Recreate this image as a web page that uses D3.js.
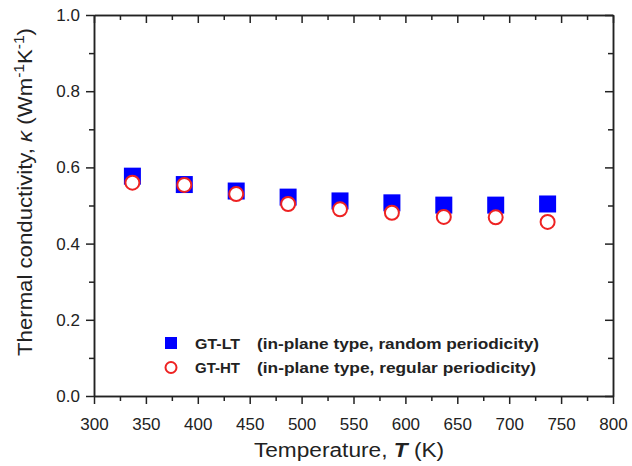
<!DOCTYPE html>
<html>
<head>
<meta charset="utf-8">
<script src="https://cdn.jsdelivr.net/npm/d3@7"></script>
<style>
  body { margin: 0; background: #fff; overflow: hidden; }
  svg { display: block; }
  svg text { font-family: Arial, "Liberation Sans", sans-serif; fill: #222; }
</style>
</head>
<body>
<div id="graph"></div>
<script>
// temperatures (K)
const temps = [337, 387, 437, 487, 537, 587, 637, 687, 737];
// GT-LT (in-plane type, random periodicity)
const ltValues = [0.577, 0.555, 0.538, 0.522, 0.512, 0.507, 0.501, 0.501, 0.504];
// GT-HT (in-plane type, regular periodicity)
const htValues = [0.560, 0.554, 0.530, 0.504, 0.490, 0.481, 0.470, 0.469, 0.457];

const xMajor = d3.range(300, 801, 50);
const xMinor = d3.range(325, 800, 50);
const yMajor = [0, 0.2, 0.4, 0.6, 0.8, 1.0];
const yMinor = [0.1, 0.3, 0.5, 0.7, 0.9];

const legendItems = [
    {name: "GT-LT", desc: "(in-plane type, random periodicity)", shape: "square"},
    {name: "GT-HT", desc: "(in-plane type, regular periodicity)", shape: "circle"}
];

const width = 632;
const height = 466;
const margin = {top: 15, right: 19, bottom: 70, left: 94};
const innerWidth = width - margin.left - margin.right;
const innerHeight = height - margin.top - margin.bottom;

const blue = "#0000ff";
const red = "#ee2222";

const svg = d3.select("#graph")
    .append("svg")
    .attr("width", width)
    .attr("height", height);

const graph = svg.append("g")
    .attr("transform", `translate(${margin.left}, ${margin.top})`);

const xScale = d3.scaleLinear().domain([300, 800]).range([0, innerWidth]);
const yScale = d3.scaleLinear().domain([0, 1]).range([innerHeight, 0]);

const styleAxis = g => {
    g.selectAll("path").attr("stroke", "#222").attr("stroke-width", 1.5);
    g.selectAll("line").attr("stroke", "#222").attr("stroke-width", 1.5);
    g.selectAll("text").attr("font-size", 17).attr("font-family", "Arial, 'Liberation Sans', sans-serif").attr("fill", "#222");
};
const noText = g => g.selectAll("text").remove();

// bottom
graph.append("g")
    .attr("transform", `translate(0, ${innerHeight})`)
    .call(d3.axisBottom(xScale).tickValues(xMajor).tickSize(8).tickSizeOuter(0).tickPadding(14).tickFormat(d3.format("d")))
    .call(styleAxis);
graph.append("g")
    .attr("transform", `translate(0, ${innerHeight})`)
    .call(d3.axisBottom(xScale).tickValues(xMinor).tickSize(5).tickSizeOuter(0))
    .call(styleAxis).call(noText);

// top (inward)
graph.append("g")
    .call(d3.axisTop(xScale).tickValues(xMajor).tickSize(-8).tickSizeOuter(0))
    .call(styleAxis).call(noText);
graph.append("g")
    .call(d3.axisTop(xScale).tickValues(xMinor).tickSize(-5).tickSizeOuter(0))
    .call(styleAxis).call(noText);

// left
graph.append("g")
    .call(d3.axisLeft(yScale).tickValues(yMajor).tickSize(8).tickSizeOuter(0).tickPadding(6).tickFormat(d3.format(".1f")))
    .call(styleAxis);
graph.append("g")
    .call(d3.axisLeft(yScale).tickValues(yMinor).tickSize(5).tickSizeOuter(0))
    .call(styleAxis).call(noText);

// right (inward)
graph.append("g")
    .attr("transform", `translate(${innerWidth}, 0)`)
    .call(d3.axisRight(yScale).tickValues(yMajor).tickSize(-8).tickSizeOuter(0))
    .call(styleAxis).call(noText);
graph.append("g")
    .attr("transform", `translate(${innerWidth}, 0)`)
    .call(d3.axisRight(yScale).tickValues(yMinor).tickSize(-5).tickSizeOuter(0))
    .call(styleAxis).call(noText);

// data
const sq = 17;
graph.append("g")
    .selectAll("rect")
    .data(temps.map((t, i) => [t, ltValues[i]]))
    .join("rect")
    .attr("x", d => xScale(d[0]) - sq / 2)
    .attr("y", d => yScale(d[1]) - sq / 2)
    .attr("width", sq)
    .attr("height", sq)
    .attr("fill", blue);

graph.append("g")
    .selectAll("circle")
    .data(temps.map((t, i) => [t, htValues[i]]))
    .join("circle")
    .attr("cx", d => xScale(d[0]))
    .attr("cy", d => yScale(d[1]))
    .attr("r", 7)
    .attr("fill", "#fff")
    .attr("stroke", red)
    .attr("stroke-width", 2);

// legend
const legend = svg.append("g").attr("transform", "translate(171, 343)");
legendItems.forEach((item, i) => {
    const row = legend.append("g").attr("transform", `translate(0, ${i * 24.5})`);
    if (item.shape === "square") {
        row.append("rect").attr("x", -6).attr("y", -6).attr("width", 12).attr("height", 12).attr("fill", blue);
    } else {
        row.append("circle").attr("r", 5.5).attr("fill", "#fff").attr("stroke", red).attr("stroke-width", 2);
    }
    row.append("text").attr("x", 24).attr("y", 5.5)
        .attr("font-size", 15).attr("font-weight", "bold")
        .attr("textLength", 45).attr("lengthAdjust", "spacingAndGlyphs")
        .text(item.name);
    row.append("text").attr("x", 86).attr("y", 5.5)
        .attr("font-size", 15).attr("font-weight", "bold")
        .attr("textLength", i === 0 ? 282 : 279).attr("lengthAdjust", "spacingAndGlyphs")
        .text(item.desc);
});

// x label
const xLabel = svg.append("text")
    .attr("transform", "translate(349, 457) scale(1.08, 1)")
    .attr("text-anchor", "middle")
    .attr("font-size", 21);
xLabel.append("tspan").text("Temperature, ");
xLabel.append("tspan").attr("font-weight", "bold").attr("font-style", "italic").text("T");
xLabel.append("tspan").text(" (K)");

// y label
const yLabel = svg.append("text")
    .attr("transform", "translate(32, 192) rotate(-90) scale(1.11, 1)")
    .attr("text-anchor", "middle")
    .attr("font-size", 20);
yLabel.append("tspan").text("Thermal conductivity, ");
yLabel.append("tspan").attr("font-style", "italic").text("κ");
yLabel.append("tspan").text(" (Wm");
yLabel.append("tspan").attr("font-size", 14).attr("dy", "-0.55em").text("-1");
yLabel.append("tspan").attr("dy", "0.385em").text("K");
yLabel.append("tspan").attr("font-size", 14).attr("dy", "-0.55em").text("-1");
yLabel.append("tspan").attr("dy", "0.385em").text(")");
</script>
</body>
</html>
